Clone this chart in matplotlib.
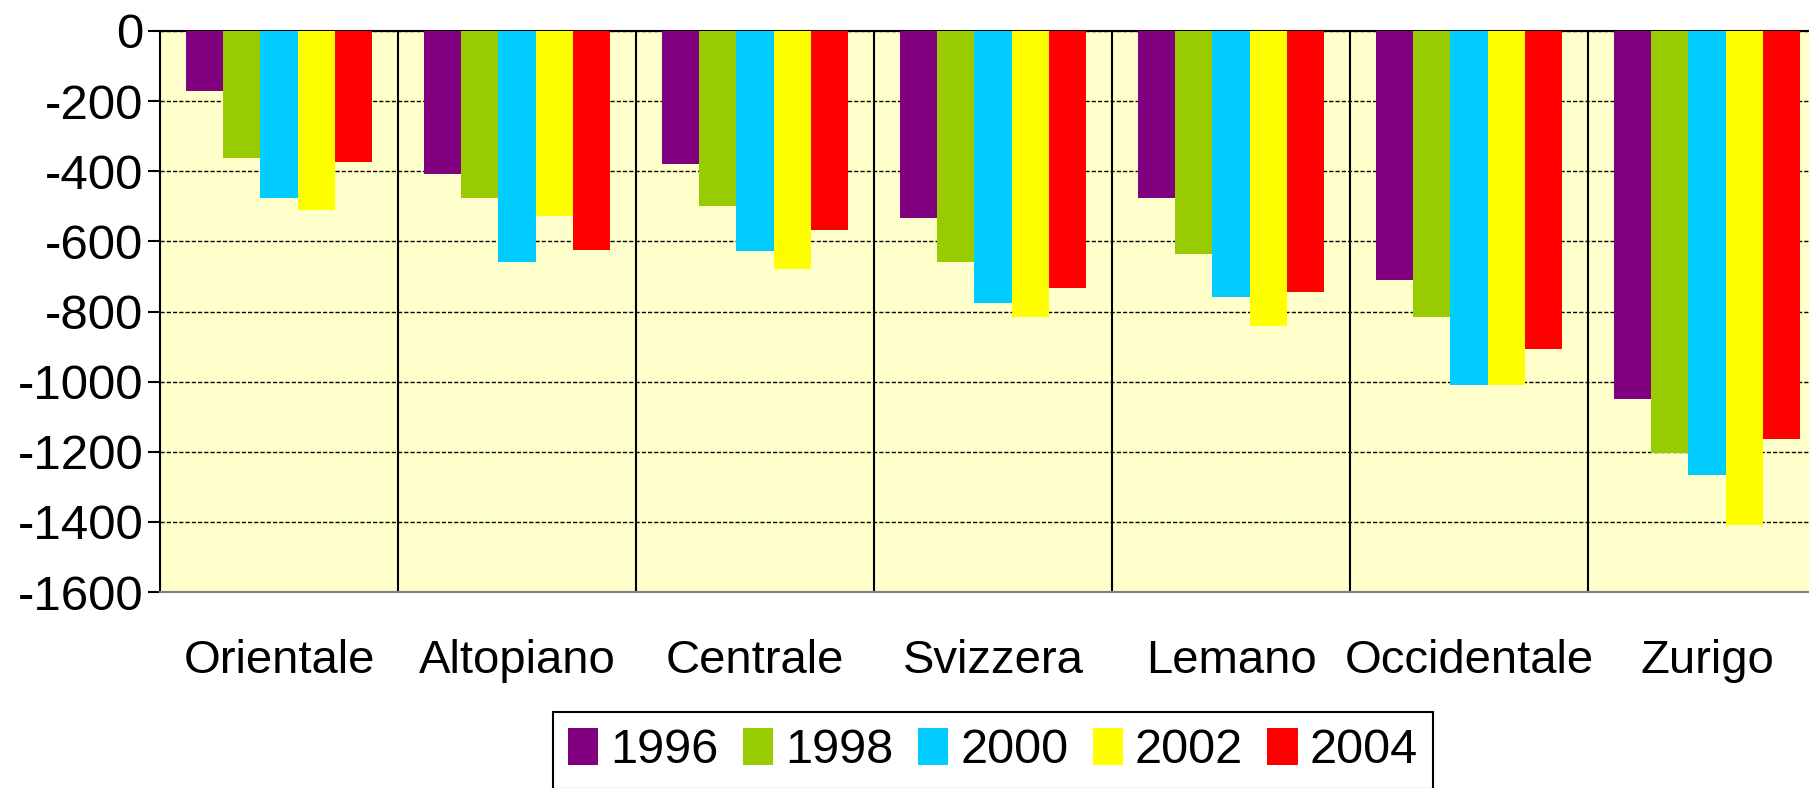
import matplotlib
matplotlib.use("Agg")
import matplotlib.pyplot as plt
import numpy as np
from matplotlib.ticker import FixedLocator

categories = ["Orientale", "Altopiano", "Centrale", "Svizzera", "Lemano", "Occidentale", "Zurigo"]
years = ["1996", "1998", "2000", "2002", "2004"]
v1996 = [-170, -408, -379, -533, -476, -710, -1050]
v1998 = [-362, -476, -498, -658, -635, -817, -1204]
v2000 = [-475, -658, -628, -777, -759, -1010, -1266]
v2002 = [-510, -528, -680, -817, -840, -1010, -1409]
v2004 = [-373, -624, -567, -732, -743, -908, -1164]
series = [v1996, v1998, v2000, v2002, v2004]
colors = ["#800080", "#99CC00", "#00CCFF", "#FFFF00", "#FF0000"]
yticks = [0, -200, -400, -600, -800, -1000, -1200, -1400, -1600]

plt.rcParams['font.family'] = ['Liberation Sans', 'DejaVu Sans']

W, H = 1809, 788
fig = plt.figure(figsize=(W / 100, H / 100), dpi=100)
left_px, right_px, top_px, bot_px = 160, 160 + 7 * 238.0, 31, 592
ax = fig.add_axes([left_px / W, 1 - bot_px / H, (right_px - left_px) / W, (bot_px - top_px) / H])
ax.set_facecolor("#FFFFCC")

x = np.arange(len(categories))
bw = 0.156
for i, (vals, c, lab) in enumerate(zip(series, colors, years)):
    ax.bar(x + (i - 2) * bw, vals, width=bw, color=c, label=lab, linewidth=0, zorder=3)

ax.set_xlim(-0.5, len(categories) - 0.5)
ax.set_ylim(-1600, 0)

# horizontal dashed gridlines
ax.set_yticks(yticks)
ax.set_yticklabels([str(t) for t in yticks], fontsize=35.5)
ax.yaxis.grid(True, linestyle=(0, (3, 1.5)), color="black", linewidth=1.0, zorder=1)
# vertical separators
ax.xaxis.set_minor_locator(FixedLocator(np.arange(0.5, len(categories) - 0.5, 1.0)))
ax.xaxis.grid(True, which="minor", linestyle="-", color="black", linewidth=1.5, zorder=1)
ax.set_axisbelow(True)

ax.set_xticks(x)
ax.set_xticklabels(categories, fontsize=34)
ax.tick_params(axis="x", which="major", length=0, pad=34)
ax.tick_params(axis="x", which="minor", length=0)
ax.tick_params(axis="y", length=9, width=1.5, direction="out", pad=3, colors="black")

for s in ["left", "top"]:
    ax.spines[s].set_color("black")
    ax.spines[s].set_linewidth(1.5)
ax.spines["bottom"].set_color("#808080")
ax.spines["bottom"].set_linewidth(1.5)
ax.spines["right"].set_visible(False)

cx = ((left_px + right_px) / 2) / W
leg = fig.legend(loc="upper center", bbox_to_anchor=(cx, 1 - 712 / H), ncol=5, fontsize=35,
                 frameon=True, fancybox=False, framealpha=1, edgecolor="black",
                 handlelength=0.62, handleheight=0.8, handletextpad=0.25, columnspacing=0.5,
                 borderpad=0.32, borderaxespad=0)
leg.get_frame().set_linewidth(1.5)

fig.savefig("out.png", dpi=100)
